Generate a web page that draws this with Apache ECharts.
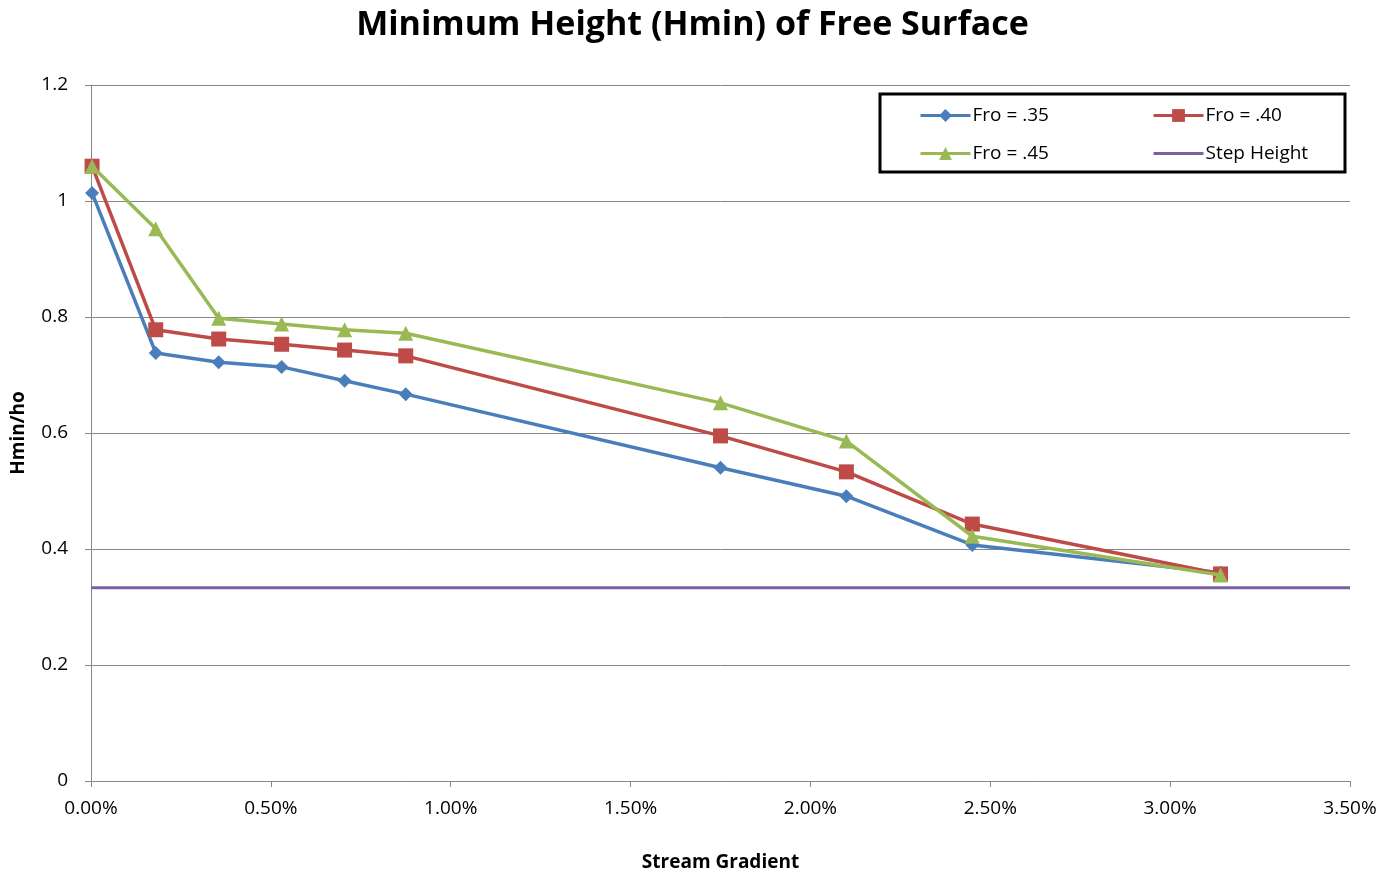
<!DOCTYPE html>
<html>
<head>
<meta charset="utf-8">
<script src="https://cdn.jsdelivr.net/npm/echarts@6/dist/echarts.min.js"></script>
<style>html,body{margin:0;padding:0;background:#fff}#c{width:1385px;height:877px}</style>
</head>
<body>
<div id="c"></div>
<script>
// Stream gradient (%)
const gradients = [0.003, 0.18, 0.355, 0.53, 0.705, 0.875, 1.75, 2.10, 2.45, 3.14];
const fro35 = [1.014, 0.738, 0.722, 0.714, 0.690, 0.667, 0.540, 0.491, 0.407, 0.359];
const fro40 = [1.060, 0.778, 0.762, 0.753, 0.743, 0.733, 0.595, 0.533, 0.443, 0.357];
const fro45 = [1.060, 0.952, 0.798, 0.788, 0.778, 0.772, 0.652, 0.586, 0.422, 0.355];
const stepX = [0.0, 3.5];
const stepY = [0.333, 0.333];

const pair = (xs, ys) => xs.map((x, i) => [x, ys[i]]);
const FONT = '"Open Sans", "Noto Sans", sans-serif';

const chart = echarts.init(document.getElementById('c'), null, {renderer: 'canvas'});
const legendCommon = {
  orient: 'vertical', top: 101, itemWidth: 50, itemHeight: 16, itemGap: 19,
  lineStyle: {width: 3},
  textStyle: {fontFamily: FONT, fontSize: 19, color: '#000', padding: [0, 0, 0, -3]}
};
chart.setOption({
  backgroundColor: '#fff',
  animation: false,
  title: {
    text: 'Minimum Height (Hmin) of Free Surface',
    left: 'center', top: 3,
    textStyle: {fontFamily: FONT, fontSize: 34, fontWeight: 'bold', color: '#000'}
  },
  graphic: [{
    type: 'rect', shape: {x: 880, y: 94, width: 465, height: 78},
    style: {fill: 'rgba(0,0,0,0)', stroke: '#000', lineWidth: 3}, z: 10
  }],
  legend: [
    Object.assign({data: ['Fro = .35', 'Fro = .45'], left: 914}, legendCommon),
    Object.assign({data: ['Fro = .40', {name: 'Step Height', itemStyle: {opacity: 0}}], left: 1147}, legendCommon)
  ],
  grid: {left: 91, right: 35, top: 85, bottom: 96, containLabel: false},
  xAxis: {
    type: 'value', min: 0, max: 3.5, interval: 0.5,
    name: 'Stream Gradient', nameLocation: 'middle', nameGap: 72,
    nameTextStyle: {fontFamily: FONT, fontSize: 19, fontWeight: 'bold', color: '#000'},
    axisLine: {lineStyle: {color: '#868686', width: 1}},
    axisTick: {show: true, length: 6, lineStyle: {color: '#868686'}},
    axisLabel: {fontFamily: FONT, fontSize: 19, color: '#000', margin: 18,
      formatter: v => v.toFixed(2) + '%'},
    splitLine: {show: false}
  },
  yAxis: {
    type: 'value', min: 0, max: 1.2, interval: 0.2,
    name: 'Hmin/ho', nameLocation: 'middle', nameGap: 63, nameRotate: 90,
    nameTextStyle: {fontFamily: FONT, fontSize: 19, fontWeight: 'bold', color: '#000'},
    axisLine: {show: true, lineStyle: {color: '#868686', width: 1}},
    axisTick: {show: true, length: 6, lineStyle: {color: '#868686'}},
    axisLabel: {fontFamily: FONT, fontSize: 19, color: '#000', margin: 23,
      formatter: v => String(Math.round(v * 10) / 10)},
    splitLine: {show: true, lineStyle: {color: '#868686', width: 1}}
  },
  series: [
    {name: 'Step Height', type: 'line', data: pair(stepX, stepY), showSymbol: false, symbol: 'none',
      lineStyle: {color: '#7D60A0', width: 3}, itemStyle: {color: '#7D60A0'}, z: 1},
    {name: 'Fro = .35', type: 'line', data: pair(gradients, fro35), symbol: 'diamond', symbolSize: 14,
      lineStyle: {color: '#4A7EBB', width: 3.5}, itemStyle: {color: '#4A7EBB'}, z: 2},
    {name: 'Fro = .40', type: 'line', data: pair(gradients, fro40), symbol: 'rect', symbolSize: 15,
      lineStyle: {color: '#BE4B48', width: 3.5}, itemStyle: {color: '#BE4B48'}, z: 3},
    {name: 'Fro = .45', type: 'line', data: pair(gradients, fro45), symbol: 'triangle', symbolSize: 15,
      lineStyle: {color: '#98B954', width: 3.5}, itemStyle: {color: '#98B954'}, z: 4}
  ]
});
</script>
</body>
</html>
